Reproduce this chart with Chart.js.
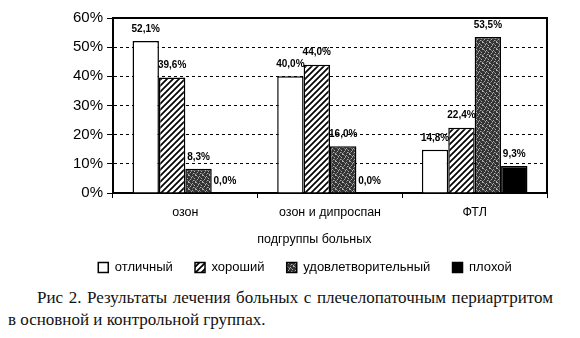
<!DOCTYPE html>
<html>
<head>
<meta charset="utf-8">
<script src="https://cdn.jsdelivr.net/npm/chart.js@4.4.0/dist/chart.umd.min.js"></script>
<style>
  body { margin: 0; background: #fff; width: 580px; height: 338px; overflow: hidden; position: relative; }
  #wrap { position: absolute; left: 0; top: 0; width: 580px; height: 284px; }
  .cap { position: absolute; font-family: "Liberation Serif", serif; font-size: 17px; color: #111; white-space: nowrap; }
  #cap1 { left: 37px; top: 288px; width: 516px; text-align: justify; text-align-last: justify; }
  #cap2 { left: 8px; top: 310px; }
</style>
</head>
<body>
<div id="wrap"><canvas id="myChart"></canvas></div>
<div class="cap" id="cap1">Рис 2. Результаты лечения больных с плечелопаточным периартритом</div>
<div class="cap" id="cap2">в основной и контрольной группах.</div>
<script>
  // Categories and series
  const groups = ['озон', 'озон и дипроспан', 'ФТЛ'];
  const excellent = [52.1, 40.0, 14.8];
  const good = [39.6, 44.0, 22.4];
  const fair = [8.3, 16.0, 53.5];
  const poor = [0.0, 0.0, 9.3];
  const seriesNames = ['отличный', 'хороший', 'удовлетворительный', 'плохой'];
  const yTicks = [0, 10, 20, 30, 40, 50, 60];

  const sans = '"Liberation Sans", Arial, sans-serif';

  // Bar fill patterns
  function hatchPattern() {
    const c = document.createElement('canvas');
    c.width = 6; c.height = 6;
    const g = c.getContext('2d');
    g.fillStyle = '#fff';
    g.fillRect(0, 0, 6, 6);
    g.strokeStyle = '#000';
    g.lineWidth = 1.7;
    g.beginPath();
    g.moveTo(-1, 7); g.lineTo(7, -1);
    g.moveTo(-4, 4); g.lineTo(4, -4);
    g.moveTo(2, 10); g.lineTo(10, 2);
    g.stroke();
    return g.createPattern(c, 'repeat');
  }

  function speckPattern() {
    const c = document.createElement('canvas');
    c.width = 7; c.height = 7;
    const g = c.getContext('2d');
    g.fillStyle = '#333';
    g.fillRect(0, 0, 7, 7);
    const light = [[0, 0], [3, 1], [5, 3], [1, 4], [4, 5], [6, 6], [2, 2], [6, 0]];
    const mid = [[1, 1], [4, 2], [0, 5], [3, 6], [5, 5], [2, 3]];
    g.fillStyle = '#b0b0b0';
    light.forEach(function (p) { g.fillRect(p[0], p[1], 1, 1); });
    g.fillStyle = '#707070';
    mid.forEach(function (p) { g.fillRect(p[0], p[1], 1, 1); });
    return g.createPattern(c, 'repeat');
  }

  const fills = ['#ffffff', hatchPattern(), speckPattern(), '#000000'];
  const values = [excellent, good, fair, poor];

  // Value labels above the bars
  const valueLabels = {
    id: 'valueLabels',
    afterDatasetsDraw: function (chart) {
      const ctx = chart.ctx;
      ctx.save();
      ctx.font = 'bold 10px ' + sans;
      ctx.fillStyle = '#000';
      ctx.textAlign = 'center';
      ctx.textBaseline = 'middle';
      chart.data.datasets.forEach(function (ds, i) {
        chart.getDatasetMeta(i).data.forEach(function (bar, j) {
          const v = ds.data[j];
          ctx.fillText(v.toFixed(1).replace('.', ',') + '%', bar.x, bar.y - 12);
        });
      });
      ctx.restore();
    }
  };

  // Top and right frame lines
  const frame = {
    id: 'frame',
    afterDraw: function (chart) {
      const a = chart.chartArea;
      const ctx = chart.ctx;
      ctx.save();
      ctx.strokeStyle = '#000';
      ctx.lineWidth = 2;
      ctx.beginPath();
      ctx.moveTo(a.left, a.top);
      ctx.lineTo(a.right, a.top);
      ctx.lineTo(a.right, a.bottom);
      ctx.stroke();
      ctx.restore();
    }
  };

  const data = {
    labels: groups,
    datasets: seriesNames.map(function (name, i) {
      return {
        label: name,
        data: values[i],
        backgroundColor: fills[i],
        borderColor: '#000',
        borderWidth: 1.5,
        barPercentage: 1,
        categoryPercentage: 0.73
      };
    })
  };

  const config = {
    type: 'bar',
    data: data,
    plugins: [valueLabels, frame],
    options: {
      responsive: true,
      maintainAspectRatio: false,
      animation: false,
      layout: { padding: { top: 18, right: 0, left: 30, bottom: 0 } },
      plugins: {
        tooltip: { enabled: false },
        legend: {
          position: 'bottom',
          labels: {
            boxWidth: 10,
            boxHeight: 10,
            padding: 15,
            color: '#000',
            font: { family: sans, size: 13 },
            generateLabels: function (chart) {
              const items = Chart.defaults.plugins.legend.labels.generateLabels(chart);
              // a little extra room after every item but the last
              items.forEach(function (it, i) {
                if (i < items.length - 1) it.text += '\u00A0\u00A0';
              });
              return items;
            }
          }
        }
      },
      scales: {
        x: {
          grid: {
            offset: true,
            drawOnChartArea: false,
            color: '#000',
            tickLength: 5
          },
          border: { color: '#000', width: 2 },
          ticks: {
            color: '#000',
            padding: 8,
            font: { family: sans, size: 12.5, lineHeight: 1 }
          },
          title: {
            display: true,
            // trailing spaces nudge the centred title a little to the left
            text: 'подгруппы больных' + '\u00A0'.repeat(9),
            color: '#000',
            padding: { top: 7, bottom: 0 },
            font: { family: sans, size: 12.5, lineHeight: 1 }
          }
        },
        y: {
          min: 0,
          max: 60,
          afterBuildTicks: function (axis) {
            axis.ticks = yTicks.map(function (v) { return { value: v }; });
          },
          afterFit: function (axis) { axis.width = 83; },
          grid: {
            color: '#000',
            lineWidth: 1,
            tickLength: 6
          },
          border: { color: '#000', width: 2, dash: [3, 3] },
          ticks: {
            color: '#000',
            padding: 4,
            callback: function (v) { return v + '%'; },
            font: { family: sans, size: 15 }
          }
        },
        // empty right axis, only keeps a margin right of the plot
        y2: {
          position: 'right',
          afterFit: function (axis) { axis.width = 33; },
          grid: { display: false },
          border: { display: false },
          ticks: { display: false }
        }
      }
    }
  };

  const myChart = new Chart(document.getElementById('myChart'), config);
</script>
</body>
</html>
